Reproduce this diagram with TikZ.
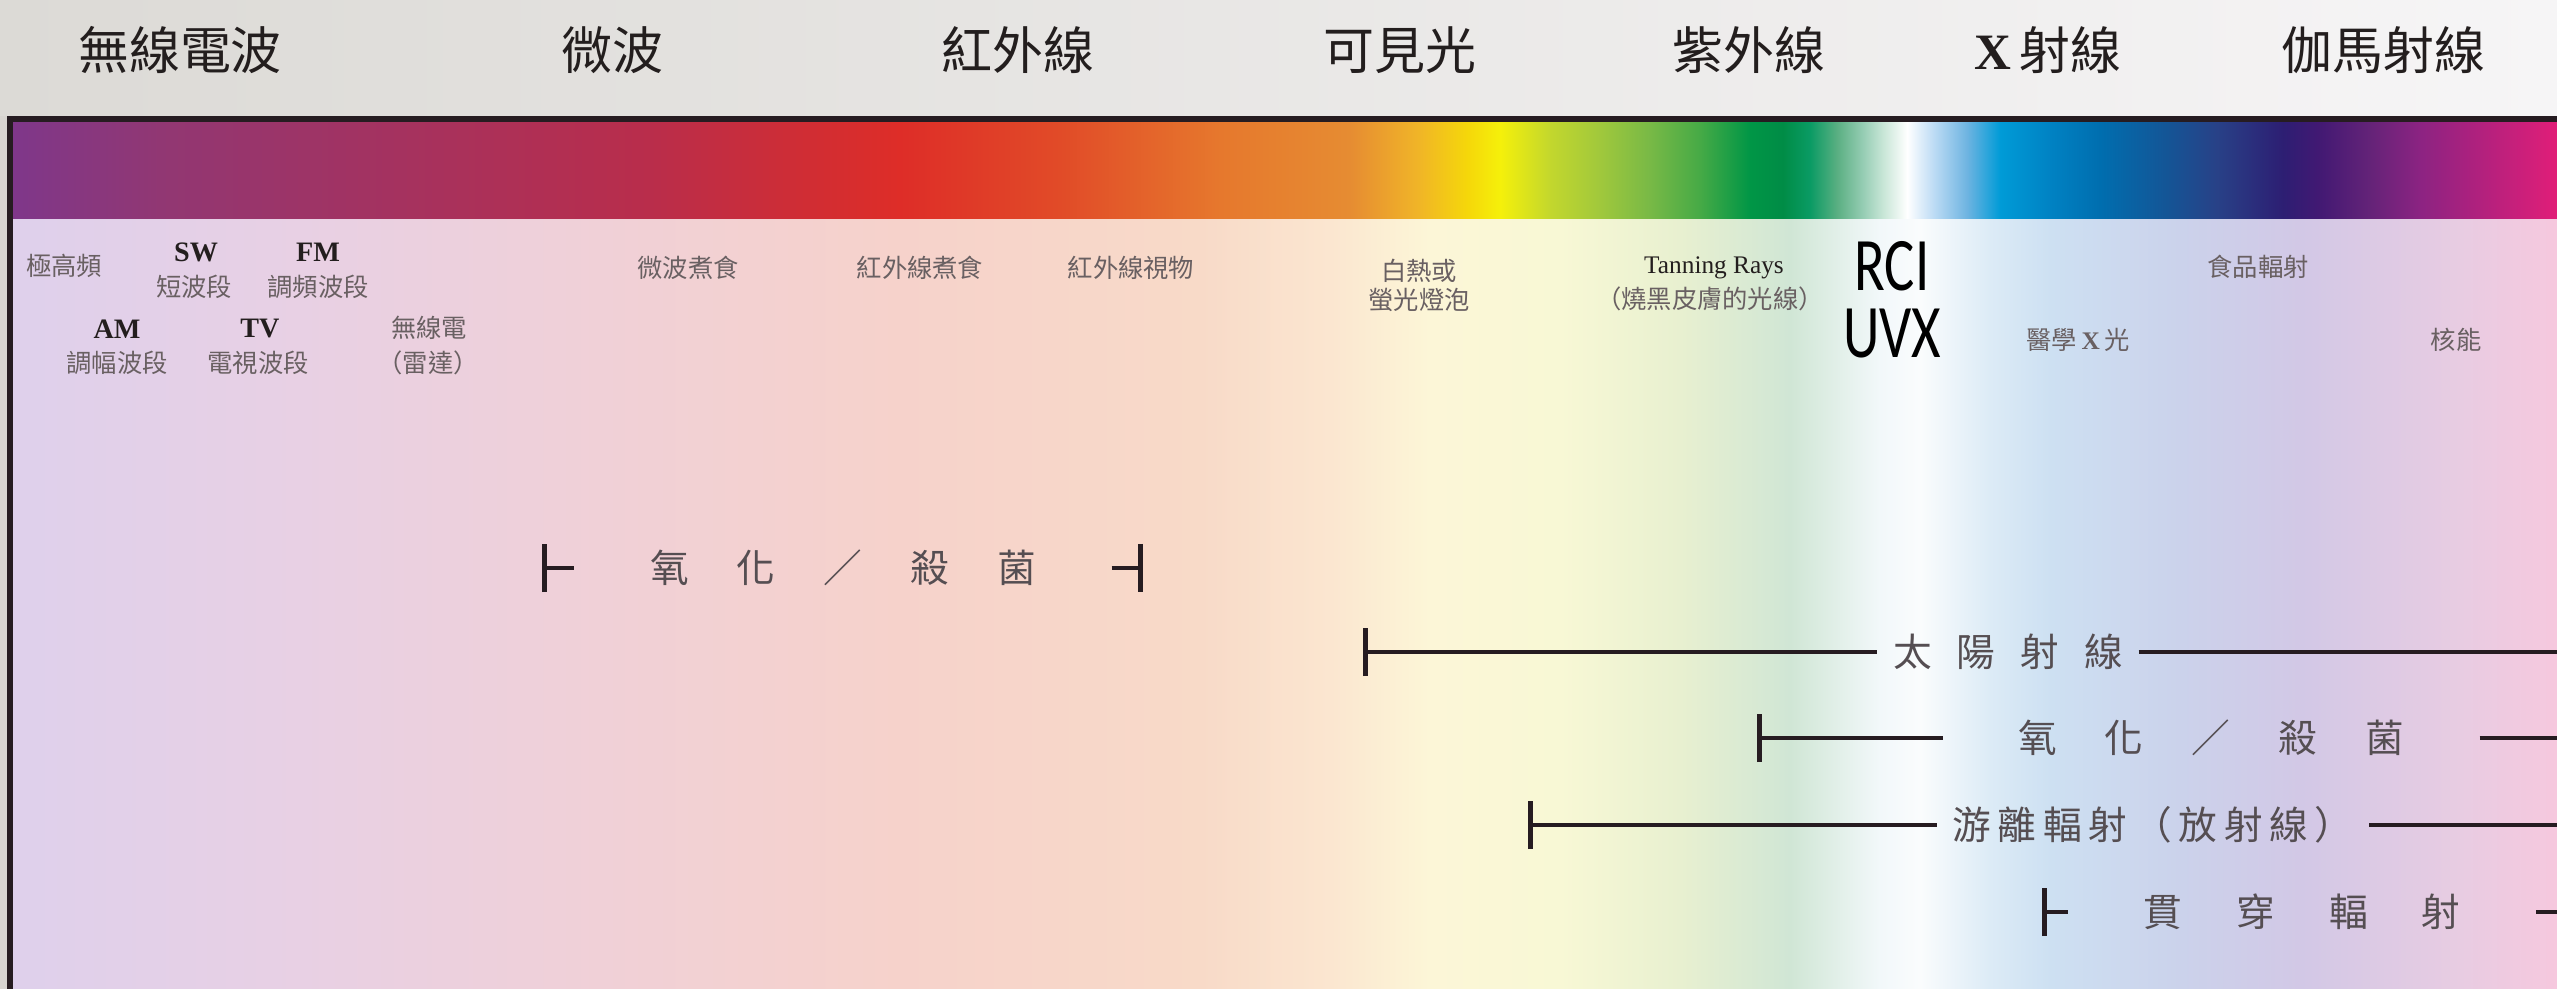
\documentclass[tikz,border=0pt]{standalone}
\usepackage{fontspec}
\usetikzlibrary{arrows.meta}
\setmainfont{Liberation Serif}
\newfontfamily\cjk{Noto Sans CJK TC}
\newfontfamily\uvfont[FakeStretch=0.75]{Carlito}

\definecolor{ink}{RGB}{35,30,30}
\definecolor{soft}{RGB}{105,96,98}
\definecolor{bandtext}{RGB}{85,78,82}
\definecolor{rule}{RGB}{38,28,33}
\definecolor{margin}{RGB}{216,213,209}
\definecolor{topL}{RGB}{220,218,214}
\definecolor{topM}{RGB}{234,232,230}
\definecolor{topR}{RGB}{246,245,246}

% colour bar stops
\definecolor{sA}{RGB}{125,55,140}  \definecolor{sB}{RGB}{145,55,115}
\definecolor{sC}{RGB}{165,50,95}   \definecolor{sD}{RGB}{185,45,75}
\definecolor{sE}{RGB}{210,45,50}   \definecolor{sF}{RGB}{222,45,40}
\definecolor{sG}{RGB}{225,75,40}   \definecolor{sH}{RGB}{230,120,45}
\definecolor{sI}{RGB}{230,140,50}  \definecolor{sJ}{RGB}{240,180,40}
\definecolor{sK}{RGB}{245,215,10}  \definecolor{sL}{RGB}{245,240,10}
\definecolor{sM}{RGB}{195,215,45}  \definecolor{sN}{RGB}{160,200,60}
\definecolor{sO}{RGB}{120,185,70}  \definecolor{sP}{RGB}{70,170,70}
\definecolor{sQ}{RGB}{0,150,70}    \definecolor{sR}{RGB}{0,140,70}
\definecolor{sS}{RGB}{10,155,100}  \definecolor{sT}{RGB}{90,175,130}
\definecolor{sU}{RGB}{150,205,180} \definecolor{sV}{RGB}{200,230,215}
\definecolor{sW}{RGB}{255,255,255} \definecolor{sX}{RGB}{190,220,245}
\definecolor{sY}{RGB}{110,180,225} \definecolor{sZ}{RGB}{0,155,215}
\definecolor{tA}{RGB}{0,130,195}   \definecolor{tB}{RGB}{0,110,175}
\definecolor{tC}{RGB}{20,85,150}   \definecolor{tD}{RGB}{40,65,135}
\definecolor{tE}{RGB}{45,30,115}   \definecolor{tF}{RGB}{65,25,115}
\definecolor{tG}{RGB}{100,35,120}  \definecolor{tH}{RGB}{140,35,130}
\definecolor{tI}{RGB}{225,30,120}
% pale band stops
\definecolor{pA}{RGB}{222,208,236} \definecolor{pB}{RGB}{232,208,228}
\definecolor{pC}{RGB}{240,208,215} \definecolor{pD}{RGB}{246,210,203}
\definecolor{pE}{RGB}{248,218,200} \definecolor{pF}{RGB}{251,230,208}
\definecolor{pG}{RGB}{252,246,215} \definecolor{pH}{RGB}{248,248,213}
\definecolor{pI}{RGB}{232,240,208} \definecolor{pJ}{RGB}{208,230,213}
\definecolor{pK}{RGB}{242,248,250} \definecolor{pL}{RGB}{250,252,253}
\definecolor{pM}{RGB}{220,235,246} \definecolor{pN}{RGB}{205,224,242}
\definecolor{pO}{RGB}{203,210,235} \definecolor{pP}{RGB}{210,200,230}
\definecolor{pQ}{RGB}{232,204,226} \definecolor{pR}{RGB}{246,200,222}

% 25bp..75bp is the width of the picture
\pgfdeclarehorizontalshading{spectrum}{100bp}{color(0bp)=(sA); color(25bp)=(sA);
  color(28.13bp)=(sB); color(32.82bp)=(sC); color(37.71bp)=(sD); color(41.03bp)=(sE);
  color(42.6bp)=(sF); color(45.73bp)=(sG); color(48.86bp)=(sH); color(51.4bp)=(sI);
  color(52.71bp)=(sJ); color(53.69bp)=(sK); color(54.33bp)=(sL); color(55.31bp)=(sM);
  color(56.29bp)=(sN); color(57.26bp)=(sO); color(58.24bp)=(sP); color(59.22bp)=(sQ);
  color(59.86bp)=(sR); color(60.39bp)=(sS); color(60.92bp)=(sT); color(61.43bp)=(sU);
  color(61.82bp)=(sV); color(62.29bp)=(sW); color(62.8bp)=(sX); color(63.46bp)=(sY);
  color(64.11bp)=(sZ); color(65.09bp)=(tA); color(66.06bp)=(tB); color(67.37bp)=(tC);
  color(68.35bp)=(tD); color(69.64bp)=(tE); color(70.31bp)=(tF); color(71.34bp)=(tG);
  color(72.32bp)=(tH); color(75bp)=(tI); color(100bp)=(tI)}
\pgfdeclarehorizontalshading{pastel}{100bp}{color(0bp)=(pA); color(25bp)=(pA);
  color(30.87bp)=(pB); color(36.73bp)=(pC); color(42.6bp)=(pD); color(48.46bp)=(pE);
  color(51.01bp)=(pF); color(52.96bp)=(pG); color(55.5bp)=(pH); color(57.85bp)=(pI);
  color(60bp)=(pJ); color(61.76bp)=(pK); color(62.54bp)=(pL); color(63.91bp)=(pM);
  color(65.09bp)=(pN); color(67.63bp)=(pO); color(69.98bp)=(pP); color(73.1bp)=(pQ);
  color(75bp)=(pR); color(100bp)=(pR)}

\newcommand{\spread}[2]{\foreach \lt [count=\idx] in {#2}{\ifnum\idx>1 \hspace{#1}\fi\lt}}

\begin{document}
\begin{tikzpicture}[x=0.01cm,y=-0.01cm]
	\tikzset{title/.style = {font=\cjk\fontsize{14.5pt}{16pt}\selectfont, text=ink, inner sep=0pt}}
	\tikzset{tag/.style = {font=\cjk\fontsize{7.2pt}{8.2pt}\selectfont, text=soft, inner sep=0pt, align=center}}
	\tikzset{tagen/.style = {font=\bfseries\fontsize{8pt}{9pt}\selectfont, text=ink, inner sep=0pt}}
	\tikzset{big/.style = {font=\uvfont\fontsize{21.5pt}{19pt}\selectfont, text=black, inner sep=0pt, align=center}}
	\tikzset{band/.style = {font=\cjk\fontsize{11pt}{13pt}\selectfont, text=bandtext, inner ysep=0pt, inner xsep=1.5mm}}
	\tikzset{wide/.style = {band, inner xsep=7.5mm}}
	\tikzset{reach/.style = {draw=rule, line width=1.4pt}}
    \useasboundingbox (0,0) rectangle (2557,989);
    % background
    \shade[left color=topL, middle color=topM, right color=topR] (0,0) rectangle (2557,116);
    \shade[shading=spectrum] (0,121) rectangle (2557,220);
    \shade[shading=pastel] (0,220) rectangle (2557,989);
    \fill[margin] (0,116) rectangle (7,989);
    \draw[rule, line width=1.7pt] (10,989) |- (2557,119);
    % band names
    \node[title] (radio) at (180,50) {無線電波};
    \node[title] (micro) at (612,50) {微波};
    \node[title] (infra) at (1018,50) {紅外線};
    \node[title] (light) at (1400,50) {可見光};
    \node[title] (ultra) at (1749,50) {紫外線};
    \node[title] (xray) at (2048,50) {{\rmfamily\bfseries X}\,射線};
    \node[title] (gamma) at (2383,50) {伽馬射線};
    % uses
    \node[tag] (uhf) at (64,266) {極高頻};
    \node[tagen] (sw) at (196,252) {SW};
    \node[tag] (swzh) at (194,287) {短波段};
    \node[tagen] (fm) at (318,252) {FM};
    \node[tag] (fmzh) at (318,287) {調頻波段};
    \node[tagen] (am) at (117,329) {AM};
    \node[tag] (amzh) at (117,363) {調幅波段};
    \node[tagen] (tv) at (260,329) {TV};
    \node[tag] (tvzh) at (258,363) {電視波段};
    \node[tag] (radar) at (429,328) {無線電};
    \node[tag] (radarzh) at (428,363) {（雷達）};
    \node[tag] (oven) at (688,268) {微波煮食};
    \node[tag] (grill) at (920,268) {紅外線煮食};
    \node[tag] (night) at (1131,268) {紅外線視物};
    \node[tag] (bulb) at (1419,285) {白熱或\\螢光燈泡};
    \node[tagen, font=\fontsize{7.2pt}{8pt}\selectfont] (tan) at (1714,268) {Tanning Rays};
    \node[tag] (tanzh) at (1710,299) {（燒黑皮膚的光線）};
    \node[big] (rciuvx) at (1892,300) {RCI\\UVX};
    \node[tag] (food) at (2258,267) {食品輻射};
    \node[tag] (med) at (2078,340) {醫學\,{\rmfamily\bfseries X}\,光};
    \node[tag] (nuke) at (2456,340) {核能};
    % ranges
    \coordinate (oxaL) at (542,568);
    \node[wide] (oxa) at (843,568) {\spread{4.8mm}{氧,化,／,殺,菌}};
    \coordinate (oxaR) at (1143,568);
    \coordinate (sunL) at (1363,652);
    \node[band] (sun) at (2008,652) {\spread{2.5mm}{太,陽,射,線}};
    \coordinate (sunR) at (2557,652);
    \coordinate (oxbL) at (1757,738);
    \node[wide] (oxb) at (2211,738) {\spread{4.8mm}{氧,化,／,殺,菌}};
    \coordinate (oxbR) at (2557,738);
    \coordinate (ionL) at (1528,825);
    \node[band] (ion) at (2153,825) {\spread{0.66mm}{游,離,輻,射,（,放,射,線,）}};
    \coordinate (ionR) at (2557,825);
    \coordinate (penL) at (2042,912);
    \node[wide] (pen) at (2302,912) {\spread{5.4mm}{貫,穿,輻,射}};
    \coordinate (penR) at (2557,912);
    %lines
    \draw[reach, {Bar[width=4.8mm]}-] (oxaL) -- (oxa.west);
    \draw[reach, -{Bar[width=4.8mm]}] (oxa.east) -- (oxaR);
    \draw[reach, {Bar[width=4.8mm]}-] (sunL) -- (sun.west);
    \draw[reach] (sun.east) -- (sunR);
    \draw[reach, {Bar[width=4.8mm]}-] (oxbL) -- (oxb.west);
    \draw[reach] (oxb.east) -- (oxbR);
    \draw[reach, {Bar[width=4.8mm]}-] (ionL) -- (ion.west);
    \draw[reach] (ion.east) -- (ionR);
    \draw[reach, {Bar[width=4.8mm]}-] (penL) -- (pen.west);
    \draw[reach] (pen.east) -- (penR);
\end{tikzpicture}
\end{document}
